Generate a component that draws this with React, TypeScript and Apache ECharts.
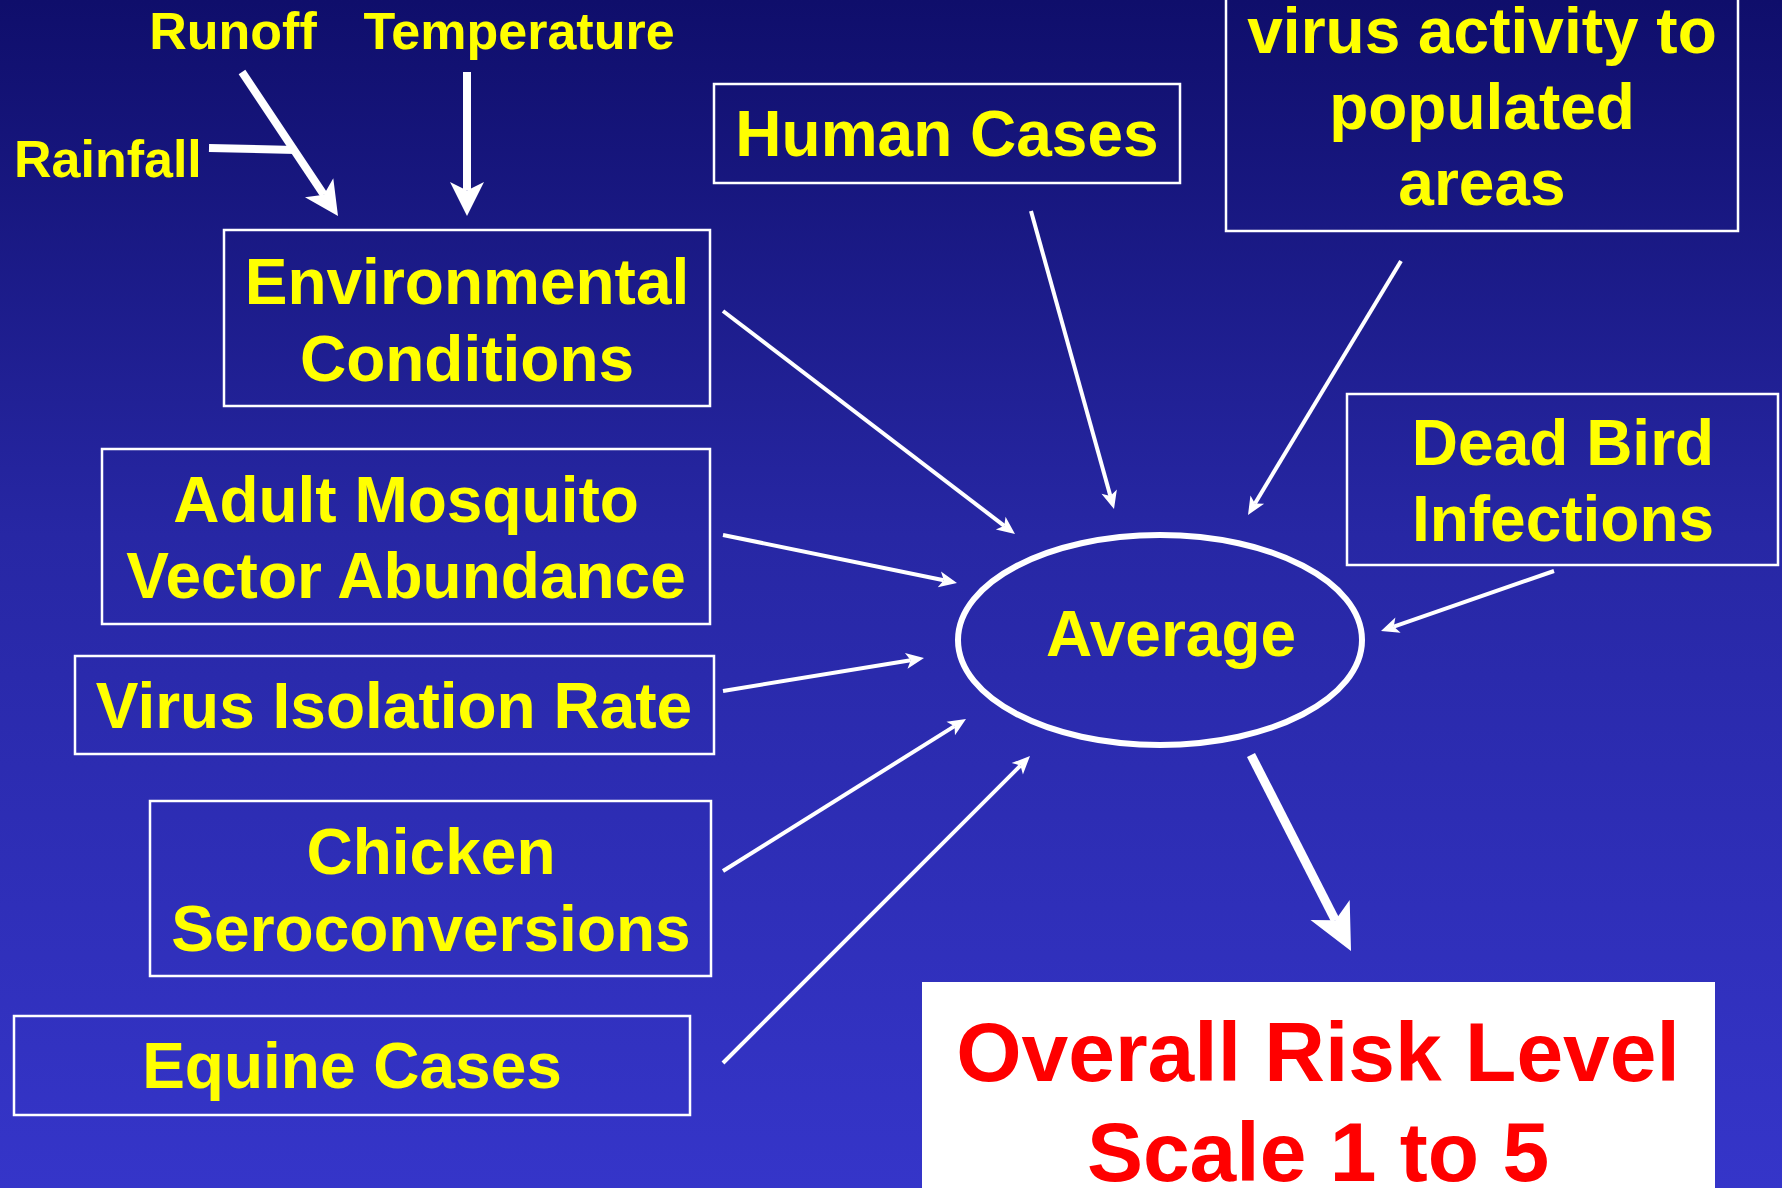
import React, { useEffect, useRef } from "react";
import * as echarts from "echarts";

// ---- content ----
const factorLabels: string[][] = [
  ["Environmental", "Conditions"],
  ["Human Cases"],
  ["virus activity to", "populated", "areas"],
  ["Dead Bird", "Infections"],
  ["Adult Mosquito", "Vector Abundance"],
  ["Virus Isolation Rate"],
  ["Chicken", "Seroconversions"],
  ["Equine Cases"],
];
const driverLabels: string[] = ["Runoff", "Temperature", "Rainfall"];
const centerLabel: string = "Average";
const outputLabels: string[] = ["Overall Risk Level", "Scale 1 to 5"];

// ---- layout (pixels) ----
// box rect [x, y, w, h], text center x, line center ys
const factorBoxes = [
  { r: [224, 230, 486, 176], cx: 467, ys: [282, 359] },
  { r: [714, 84, 466, 99], cx: 947, ys: [134] },
  { r: [1226, -120, 512, 351], cx: 1482, ys: [31, 107, 183] },
  { r: [1347, 394, 431, 171], cx: 1563, ys: [443, 519] },
  { r: [102, 449, 608, 175], cx: 406, ys: [500, 576] },
  { r: [75, 656, 639, 98], cx: 394, ys: [706] },
  { r: [150, 801, 561, 175], cx: 431, ys: [852, 929] },
  { r: [14, 1016, 676, 99], cx: 352, ys: [1066] },
];
const factorArrows = [
  [723, 311, 1015, 534],
  [1031, 211, 1114, 509],
  [1401, 261, 1248, 515],
  [1554, 571, 1381, 631],
  [723, 535, 957, 583],
  [723, 691, 924, 658],
  [723, 871, 966, 719],
  [723, 1063, 1030, 756],
];
const driverPos = [
  { x: 233, y: 31, align: "center" },
  { x: 519, y: 31, align: "center" },
  { x: 14, y: 159, align: "left" },
];
const driverArrows = [
  [242, 72, 338, 216],
  [467, 72, 467, 216],
];
const rainfallLine = [209, 148, 296, 150];
const ellipse = { cx: 1160, cy: 640, rx: 202, ry: 105 };
const outputArrow = [1251, 755, 1351, 951];
const outputBox = { r: [922, 982, 793, 260], cx: 1318, ys: [1052, 1152] };

const FONT = '"Liberation Sans", Arial, sans-serif';
const YELLOW = "#ffff00";

function arrow(a: number[], width: number, headLen: number, headHalf: number, z = 5) {
  const [x1, y1, x2, y2] = a;
  const dx = x2 - x1, dy = y2 - y1;
  const len = Math.hypot(dx, dy);
  const ux = dx / len, uy = dy / len;
  const px = -uy, py = ux;
  const bx = x2 - ux * headLen, by = y2 - uy * headLen;
  const notch = headLen * 0.25;
  return [
    {
      type: "line",
      z,
      shape: { x1, y1, x2: bx + ux * notch, y2: by + uy * notch },
      style: { stroke: "#ffffff", lineWidth: width },
    },
    {
      type: "polygon",
      z,
      shape: {
        points: [
          [x2, y2],
          [bx + px * headHalf, by + py * headHalf],
          [bx + ux * notch, by + uy * notch],
          [bx - px * headHalf, by - py * headHalf],
        ],
      },
      style: { fill: "#ffffff" },
    },
  ];
}

export default function App() {
  const ref = useRef<HTMLDivElement>(null);
  useEffect(() => {
    if (!ref.current) return;
    const chart = echarts.init(ref.current, undefined, { renderer: "svg" });
    const els: any[] = [];
    els.push({
      type: "rect",
      z: 0,
      shape: { x: 0, y: 0, width: 1782, height: 1188 },
      style: {
        fill: new echarts.graphic.LinearGradient(0, 0, 0, 1, [
          { offset: 0, color: "#0f0e6b" },
          { offset: 0.45, color: "#2727a4" },
          { offset: 1, color: "#3535c9" },
        ]),
      },
    });
    factorBoxes.forEach((b, i) => {
      els.push({
        type: "rect",
        z: 2,
        shape: { x: b.r[0], y: b.r[1], width: b.r[2], height: b.r[3] },
        style: { fill: "transparent", stroke: "#ffffff", lineWidth: 2.5 },
      });
      factorLabels[i].forEach((t, j) => {
        els.push({
          type: "text",
          z: 6,
          x: b.cx,
          y: b.ys[j],
          style: {
            text: t,
            fill: YELLOW,
            font: `bold 64px ${FONT}`,
            textAlign: "center",
            textVerticalAlign: "middle",
          },
        });
      });
    });
    factorArrows.forEach((a) => els.push(...arrow(a, 4, 18, 8)));
    driverLabels.forEach((t, i) => {
      const p = driverPos[i];
      els.push({
        type: "text",
        z: 6,
        x: p.x,
        y: p.y,
        style: {
          text: t,
          fill: YELLOW,
          font: `bold 52px ${FONT}`,
          textAlign: p.align,
          textVerticalAlign: "middle",
        },
      });
    });
    driverArrows.forEach((a) => els.push(...arrow(a, 8, 34, 17)));
    els.push({
      type: "line",
      z: 5,
      shape: { x1: rainfallLine[0], y1: rainfallLine[1], x2: rainfallLine[2], y2: rainfallLine[3] },
      style: { stroke: "#ffffff", lineWidth: 8 },
    });
    els.push({
      type: "ellipse",
      z: 4,
      shape: { cx: ellipse.cx, cy: ellipse.cy, rx: ellipse.rx, ry: ellipse.ry },
      style: { fill: "transparent", stroke: "#ffffff", lineWidth: 6 },
    });
    els.push({
      type: "text",
      z: 6,
      x: 1171,
      y: 634,
      style: {
        text: centerLabel,
        fill: YELLOW,
        font: `bold 64px ${FONT}`,
        textAlign: "center",
        textVerticalAlign: "middle",
      },
    });
    els.push(...arrow(outputArrow, 9, 46, 22));
    els.push({
      type: "rect",
      z: 3,
      shape: { x: outputBox.r[0], y: outputBox.r[1], width: outputBox.r[2], height: outputBox.r[3] },
      style: { fill: "#ffffff" },
    });
    outputLabels.forEach((t, j) => {
      els.push({
        type: "text",
        z: 6,
        x: outputBox.cx,
        y: outputBox.ys[j],
        style: {
          text: t,
          fill: "#ff0000",
          font: `bold 84px ${FONT}`,
          textAlign: "center",
          textVerticalAlign: "middle",
        },
      });
    });
    chart.setOption({ animation: false, graphic: { elements: els } });
    return () => chart.dispose();
  }, []);
  return (
    <div
      ref={ref}
      style={{ position: "fixed", left: 0, top: 0, width: 1782, height: 1188 }}
    />
  );
}
